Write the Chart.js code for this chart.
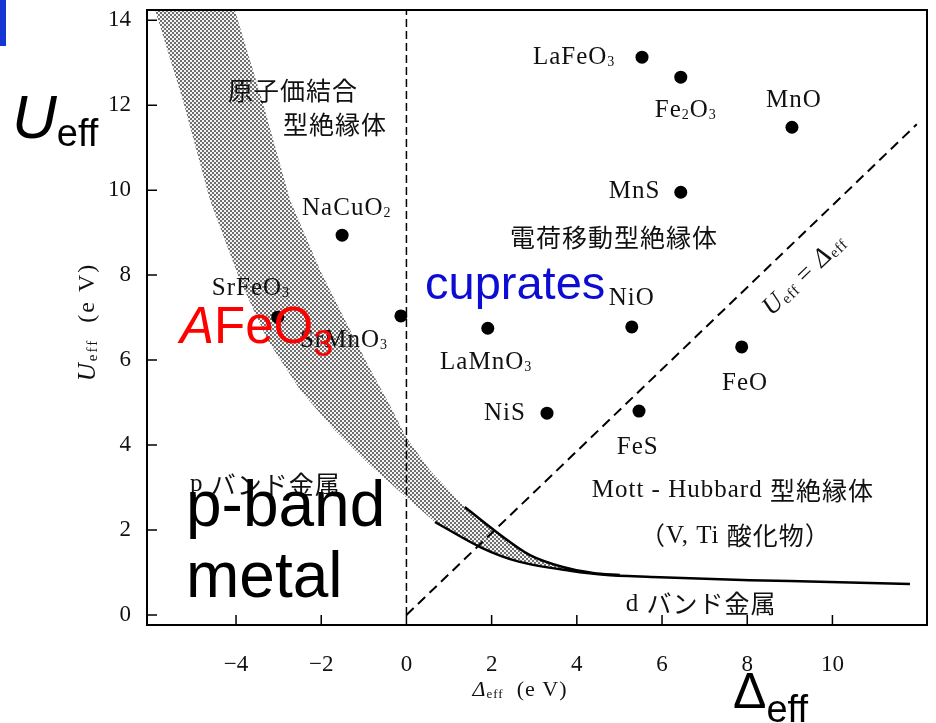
<!DOCTYPE html>
<html>
<head>
<meta charset="utf-8">
<script src="https://cdn.jsdelivr.net/npm/chart.js@4.4.1/dist/chart.umd.min.js"></script>
<style>
  html, body { margin: 0; padding: 0; background: #fff; }
  canvas { display: block; }
</style>
</head>
<body>
<canvas id="chart" width="936" height="723"></canvas>
<script>
// Axis ticks
const xTicks = [-4, -2, 0, 2, 4, 6, 8, 10];
const xTickLabels = ['\u22124', '\u22122', '0', '2', '4', '6', '8', '10'];
const yTicks = [0, 2, 4, 6, 8, 10, 12, 14];

// Compounds (Delta_eff, U_eff) in eV
const compoundNames = ['LaFeO3', 'Fe2O3', 'MnO', 'MnS', 'NaCuO2', 'SrMnO3', 'SrFeO3', 'LaMnO3', 'NiO', 'FeO', 'NiS', 'FeS'];
const compoundDelta = [5.53, 6.44, 9.05, 6.44, -1.51, -0.13, -3.02, 1.91, 5.29, 7.87, 3.30, 5.46];
const compoundU = [13.13, 12.66, 11.48, 9.95, 8.94, 7.04, 7.01, 6.75, 6.78, 6.31, 4.75, 4.80];

// Shaded crossover band (left/lower edge and right/upper edge)
const bandLeftDelta = [-6.01, -5.90, -5.25, -4.61, -3.91, -3.26, -2.49, -1.68, -0.86, -0.01, 0.67];
const bandLeftU = [14.6, 14.24, 12.12, 9.76, 7.88, 6.47, 5.29, 4.35, 3.53, 2.78, 2.19];
const bandRightDelta = [-4.14, -4.03, -3.39, -2.73, -2.03, -1.44, -0.90, -0.39, -0.01, 0.55, 1.37];
const bandRightU = [14.6, 14.24, 12.12, 9.76, 8.12, 6.94, 5.88, 4.94, 4.19, 3.41, 2.54];

// Solid boundary curves towards the d-band metal
const lowerCurveDelta = [0.67, 1.73, 2.66, 3.84, 4.71, 5.95, 8.06, 9.94, 11.82];
const lowerCurveU = [2.19, 1.60, 1.25, 1.04, 0.94, 0.89, 0.82, 0.78, 0.73];
const upperCurveDelta = [1.37, 2.12, 2.90, 3.67, 4.38, 5.01];
const upperCurveU = [2.54, 1.95, 1.41, 1.13, 0.99, 0.94];

// Dashed lines: U = Delta and Delta = 0
const diagonalDelta = [0, 11.98];
const diagonalU = [0, 11.55];
const zeroLineDelta = [0, 0];
const zeroLineU = [0, 14.24];

// Region / compound labels, anchored at left-middle ('_' = subscript)
const labels = [
  ['LaFeO_3', 2.97, 13.13],
  ['Fe_2O_3', 5.83, 11.88],
  ['MnO', 8.44, 12.12],
  ['MnS', 4.75, 9.98],
  ['電荷移動型絶縁体', 2.43, 8.89],
  ['NaCuO_2', -2.45, 9.58],
  ['原子価結合', -4.19, 12.35],
  ['型絶縁体', -2.90, 11.55],
  ['SrFeO_3', -4.57, 7.69],
  ['SrMnO_3', -2.50, 6.47],
  ['NiO', 4.75, 7.46],
  ['LaMnO_3', 0.79, 5.95],
  ['NiS', 1.82, 4.75],
  ['FeO', 7.41, 5.46],
  ['FeS', 4.94, 3.95],
  ['Mott - Hubbard 型絶縁体', 4.35, 2.94],
  ['（V, Ti 酸化物）', 5.48, 1.86],
  ['d バンド金属', 5.15, 0.26],
  ['p バンド金属', -5.08, 3.08]
];

const SERIF = '"Liberation Serif", "DejaVu Serif", serif';
const CJK = '"Noto Sans CJK JP", sans-serif';
const SANS = '"Liberation Sans", Arial, sans-serif';

function pts(xs, ys) {
  return xs.map((v, i) => ({ x: v, y: ys[i] }));
}

// closed polygon for the stippled band
function bandPolygon() {
  const left = pts(bandLeftDelta, bandLeftU);
  const lower = pts(lowerCurveDelta, lowerCurveU).filter(p => p.x > 0.7 && p.x < 4.38);
  const upper = pts(upperCurveDelta, upperCurveU).filter(p => p.x <= 4.38).reverse();
  const right = pts(bandRightDelta, bandRightU).reverse();
  return left.concat(lower, upper, right);
}

function stipple(ctx) {
  const c = document.createElement('canvas');
  c.width = 4; c.height = 4;
  const g = c.getContext('2d');
  g.fillStyle = '#f4f4f4';
  g.fillRect(0, 0, 4, 4);
  g.fillStyle = '#707070';
  g.fillRect(0, 0, 2, 2);
  g.fillRect(2, 2, 2, 2);
  return ctx.createPattern(c, 'repeat');
}

// split a label into font runs
function labelParts(str, size) {
  const parts = [];
  for (let i = 0; i < str.length; i++) {
    let ch = str[i];
    let font, dy = 0;
    if (ch === '_') {
      ch = str[++i];
      font = `${Math.round(size * 0.55)}px ${SERIF}`;
      dy = size * 0.22;
    } else if (ch.charCodeAt(0) >= 0x3000) {
      font = `${size}px ${CJK}`;
    } else {
      font = `${size}px ${SERIF}`;
    }
    const last = parts[parts.length - 1];
    if (last && last.font === font && last.dy === dy) last.text += ch;
    else parts.push({ text: ch, font: font, dy: dy });
  }
  return parts;
}

function partsWidth(ctx, parts) {
  let w = 0;
  parts.forEach(p => { ctx.font = p.font; w += ctx.measureText(p.text).width; });
  return w;
}

function drawParts(ctx, parts, x, y, align) {
  let cx = x;
  if (align === 'center') cx -= partsWidth(ctx, parts) / 2;
  parts.forEach(p => {
    ctx.font = p.font;
    ctx.fillText(p.text, cx, y + (p.dy || 0));
    cx += ctx.measureText(p.text).width;
  });
}

const overlayPlugin = {
  id: 'overlay',
  afterDatasetsDraw(chart) {
    const { ctx, chartArea: a, scales: { x, y } } = chart;
    ctx.save();

    // frame
    ctx.strokeStyle = '#000';
    ctx.lineWidth = 2;
    ctx.strokeRect(a.left, a.top, a.right - a.left, a.bottom - a.top);

    // inward ticks
    ctx.lineWidth = 1.5;
    ctx.beginPath();
    yTicks.forEach(v => {
      const py = y.getPixelForValue(v);
      ctx.moveTo(a.left, py);
      ctx.lineTo(a.left + 10, py);
    });
    xTicks.forEach(v => {
      const px = x.getPixelForValue(v);
      ctx.moveTo(px, a.bottom);
      ctx.lineTo(px, a.bottom - 10);
    });
    ctx.stroke();

    // region and compound labels
    ctx.fillStyle = '#111';
    ctx.textBaseline = 'middle';
    ctx.textAlign = 'left';
    ctx.letterSpacing = '1px';
    labels.forEach(([text, dx, dy]) => {
      drawParts(ctx, labelParts(text, 25), x.getPixelForValue(dx), y.getPixelForValue(dy), 'left');
    });

    // U_eff = Delta_eff along the dashed line
    const p0 = { x: x.getPixelForValue(diagonalDelta[0]), y: y.getPixelForValue(diagonalU[0]) };
    const p1 = { x: x.getPixelForValue(diagonalDelta[1]), y: y.getPixelForValue(diagonalU[1]) };
    const ang = Math.atan2(p1.y - p0.y, p1.x - p0.x);
    ctx.save();
    ctx.translate(x.getPixelForValue(9.35), y.getPixelForValue(8.0));
    ctx.rotate(ang);
    drawParts(ctx, [
      { text: 'U', font: `italic 26px ${SERIF}` },
      { text: 'eff', font: `15px ${SERIF}`, dy: 5 },
      { text: ' = ', font: `26px ${SERIF}` },
      { text: 'Δ', font: `italic 26px ${SERIF}` },
      { text: 'eff', font: `15px ${SERIF}`, dy: 5 }
    ], 0, 0, 'center');
    ctx.restore();

    // axis titles
    ctx.letterSpacing = '1px';
    drawParts(ctx, [
      { text: 'Δ', font: `italic 22px ${SERIF}` },
      { text: 'eff', font: `13px ${SERIF}`, dy: 5 },
      { text: '  (e V)', font: `22px ${SERIF}` }
    ], 520, 690, 'center');
    ctx.save();
    ctx.translate(88, 322);
    ctx.rotate(-Math.PI / 2);
    ctx.letterSpacing = '2px';
    drawParts(ctx, [
      { text: 'U', font: `italic 25px ${SERIF}` },
      { text: 'eff', font: `15px ${SERIF}`, dy: 5 },
      { text: '  (e V)', font: `24px ${SERIF}` }
    ], 0, 0, 'center');
    ctx.restore();

    // slide overlays
    ctx.letterSpacing = '0px';
    ctx.textBaseline = 'alphabetic';
    ctx.fillStyle = '#1636d4';
    ctx.fillRect(0, 0, 6, 46);

    ctx.fillStyle = '#000';
    drawParts(ctx, [
      { text: 'U', font: `italic 62px ${SANS}` },
      { text: 'eff', font: `38px ${SANS}`, dy: 8 }
    ], 12, 138, 'left');
    drawParts(ctx, [
      { text: 'Δ', font: `50px ${SANS}` },
      { text: 'eff', font: `38px ${SANS}`, dy: 14 }
    ], 733, 708, 'left');

    ctx.font = `64px ${SANS}`;
    ctx.fillText('p-band', 186, 526);
    ctx.fillText('metal', 186, 597);

    ctx.fillStyle = '#0c0cd2';
    ctx.font = `47px ${SANS}`;
    ctx.fillText('cuprates', 425, 299);

    ctx.fillStyle = '#ff0000';
    drawParts(ctx, [
      { text: 'A', font: `italic 51px ${SANS}` },
      { text: 'FeO', font: `51px ${SANS}` },
      { text: '3', font: `36px ${SANS}`, dy: 13 }
    ], 180, 343, 'left');

    ctx.restore();
  }
};

const canvas = document.getElementById('chart');
const ctx2d = canvas.getContext('2d');

new Chart(canvas, {
  type: 'scatter',
  data: {
    datasets: [
      {
        label: 'compounds',
        data: pts(compoundDelta, compoundU),
        pointRadius: 6.5,
        pointHoverRadius: 6.5,
        backgroundColor: '#000',
        borderWidth: 0,
        order: 0
      },
      {
        type: 'line',
        label: 'upper boundary',
        data: pts(upperCurveDelta, upperCurveU),
        borderColor: '#000',
        borderWidth: 2.5,
        pointRadius: 0,
        tension: 0.3,
        fill: false,
        order: 1
      },
      {
        type: 'line',
        label: 'lower boundary',
        data: pts(lowerCurveDelta, lowerCurveU),
        borderColor: '#000',
        borderWidth: 2.5,
        pointRadius: 0,
        tension: 0.3,
        fill: false,
        order: 1
      },
      {
        type: 'line',
        label: 'U = Delta',
        data: pts(diagonalDelta, diagonalU),
        borderColor: '#000',
        borderWidth: 2,
        borderDash: [10, 6],
        pointRadius: 0,
        fill: false,
        order: 2
      },
      {
        type: 'line',
        label: 'Delta = 0',
        data: pts(zeroLineDelta, zeroLineU),
        borderColor: '#000',
        borderWidth: 1.5,
        borderDash: [8, 4],
        pointRadius: 0,
        fill: false,
        order: 2
      },
      {
        type: 'line',
        label: 'band',
        data: bandPolygon(),
        borderWidth: 0,
        borderColor: 'rgba(0,0,0,0)',
        backgroundColor: stipple(ctx2d),
        pointRadius: 0,
        tension: 0,
        fill: 'shape',
        order: 5
      }
    ]
  },
  options: {
    responsive: false,
    animation: false,
    devicePixelRatio: 1,
    events: [],
    layout: { padding: { left: 0, right: 9, top: 10, bottom: 0 } },
    plugins: { legend: { display: false }, tooltip: { enabled: false } },
    scales: {
      x: {
        type: 'linear',
        min: -6.09,
        max: 12.22,
        grid: { display: false },
        border: { display: false },
        afterBuildTicks: s => { s.ticks = xTicks.map(v => ({ value: v })); },
        afterFit: s => { s.height = 98; s.paddingLeft = 0; s.paddingRight = 0; },
        ticks: {
          color: '#111',
          padding: 18,
          maxRotation: 0,
          autoSkip: false,
          font: { family: SERIF, size: 23 },
          callback: v => xTickLabels[xTicks.indexOf(v)]
        }
      },
      y: {
        type: 'linear',
        min: -0.235,
        max: 14.24,
        grid: { display: false },
        border: { display: false },
        afterBuildTicks: s => { s.ticks = yTicks.map(v => ({ value: v })); },
        afterFit: s => { s.width = 147; s.paddingTop = 0; s.paddingBottom = 0; },
        ticks: {
          color: '#111',
          padding: 8,
          autoSkip: false,
          font: { family: SERIF, size: 23 },
          callback: v => String(v)
        }
      }
    }
  },
  plugins: [overlayPlugin]
});
</script>
</body>
</html>
